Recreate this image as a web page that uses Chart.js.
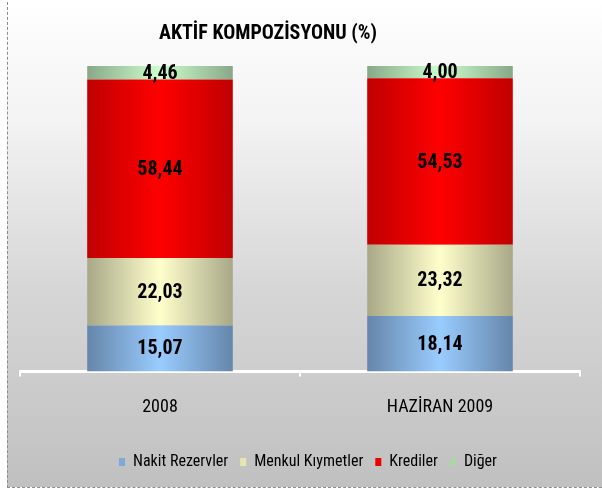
<!DOCTYPE html>
<html>
<head>
<meta charset="utf-8">
<script src="https://cdn.jsdelivr.net/npm/chart.js@4.4.1/dist/chart.umd.min.js"></script>
<style>
  html, body { margin: 0; padding: 0; }
  body { width: 602px; height: 493px; overflow: hidden; position: relative; background: #fff; }
  #frame {
    position: absolute; left: 7px; top: -3px; width: 620px; height: 491px;
    border: 1px dashed #8c8c8c; box-sizing: border-box;
    background: linear-gradient(to bottom, #ffffff 0%, #f3f3f3 25%, #d6d6d6 60%, #c0c0c0 100%);
  }
  #wrap { position: absolute; left: 0; top: 0; width: 602px; height: 493px; }
</style>
</head>
<body>
<div id="frame"></div>
<div id="wrap"><canvas id="chart" width="602" height="493"></canvas></div>
<script>
const categories = ['2008', 'HAZİRAN 2009'];
const seriesNames = ['Nakit Rezervler', 'Menkul Kıymetler', 'Krediler', 'Diğer'];
const nakitRezervler = [15.07, 18.14];
const menkulKiymetler = [22.03, 23.32];
const krediler = [58.44, 54.53];
const diger = [4.46, 4.00];

const FONT = '"Roboto Condensed", "Liberation Sans", Arial, sans-serif';
const BAR_FRACTION = 0.52;

// edge / centre colours for the cylinder-ish shading
const shades = [
    { edge: '#6686aa', mid: '#99ccff' },
    { edge: '#a8a888', mid: '#ffffcc' },
    { edge: '#c00000', mid: '#ff0000' },
    { edge: '#88a888', mid: '#ccffcc' }
];
const legendColors = ['#7fa9d8', '#e6e6b0', '#ee0000', '#aad6aa'];

function shaded(i) {
    return function (ctx) {
        const chart = ctx.chart;
        const area = chart.chartArea;
        if (!area || !chart.scales.x) return shades[i].mid;
        const cx = chart.scales.x.getPixelForValue(ctx.dataIndex);
        const w = area.width / categories.length * BAR_FRACTION;
        const g = chart.ctx.createLinearGradient(cx - w / 2, 0, cx + w / 2, 0);
        g.addColorStop(0, shades[i].edge);
        g.addColorStop(0.5, shades[i].mid);
        g.addColorStop(1, shades[i].edge);
        return g;
    };
}

const valueLabels = {
    id: 'valueLabels',
    afterDatasetsDraw(chart) {
        const c = chart.ctx;
        c.save();
        c.font = 'bold 20px ' + FONT;
        c.fillStyle = '#000';
        c.textAlign = 'center';
        c.textBaseline = 'middle';
        chart.data.datasets.forEach((ds, di) => {
            chart.getDatasetMeta(di).data.forEach((bar, i) => {
                const txt = ds.data[i].toFixed(2).replace('.', ',');
                c.fillText(txt, bar.x, (bar.y + bar.base) / 2 + 1);
            });
        });
        c.restore();
    }
};

const titleText = {
    id: 'titleText',
    afterDraw(chart) {
        const c = chart.ctx;
        c.save();
        c.font = 'bold 20px ' + FONT;
        c.fillStyle = '#000';
        c.textAlign = 'center';
        c.textBaseline = 'middle';
        c.fillText('AKTİF KOMPOZİSYONU (%)', 268, 34);
        c.restore();
    }
};

// legend sits a little right of centre in the original
const legendNudge = {
    id: 'legendNudge',
    afterLayout(chart) {
        chart.legend.left += 8;
        chart.legend.right += 8;
    }
};

const seriesData = [nakitRezervler, menkulKiymetler, krediler, diger];

new Chart(document.getElementById('chart').getContext('2d'), {
    type: 'bar',
    data: {
        labels: categories,
        datasets: seriesNames.map((name, i) => ({
            label: name,
            data: seriesData[i],
            backgroundColor: shaded(i),
            borderWidth: 0,
            barPercentage: BAR_FRACTION,
            categoryPercentage: 1
        }))
    },
    options: {
        responsive: false,
        animation: false,
        layout: { padding: { top: 66, left: 20, right: 22, bottom: 13 } },
        plugins: {
            title: { display: false },
            tooltip: { enabled: false },
            legend: {
                position: 'bottom',
                labels: {
                    font: { family: FONT, size: 16 },
                    color: '#000',
                    boxWidth: 6,
                    boxHeight: 8,
                    padding: 12,
                    generateLabels(chart) {
                        return chart.data.datasets.map((ds, i) => ({
                            text: ds.label,
                            fillStyle: legendColors[i],
                            strokeStyle: 'rgba(0,0,0,0)',
                            lineWidth: 0,
                            datasetIndex: i,
                            hidden: false
                        }));
                    }
                }
            }
        },
        scales: {
            x: {
                stacked: true,
                grid: { display: true, drawOnChartArea: false, color: '#ffffff', lineWidth: 2, tickLength: 5 },
                border: { display: true, color: '#ffffff', width: 3 },
                ticks: { color: '#000', font: { family: FONT, size: 18 }, padding: 20 },
                afterFit(scale) { scale.height += 4; }
            },
            y: {
                stacked: true,
                display: false,
                min: 0,
                max: 100
            }
        }
    },
    plugins: [valueLabels, titleText, legendNudge]
});
</script>
</body>
</html>
